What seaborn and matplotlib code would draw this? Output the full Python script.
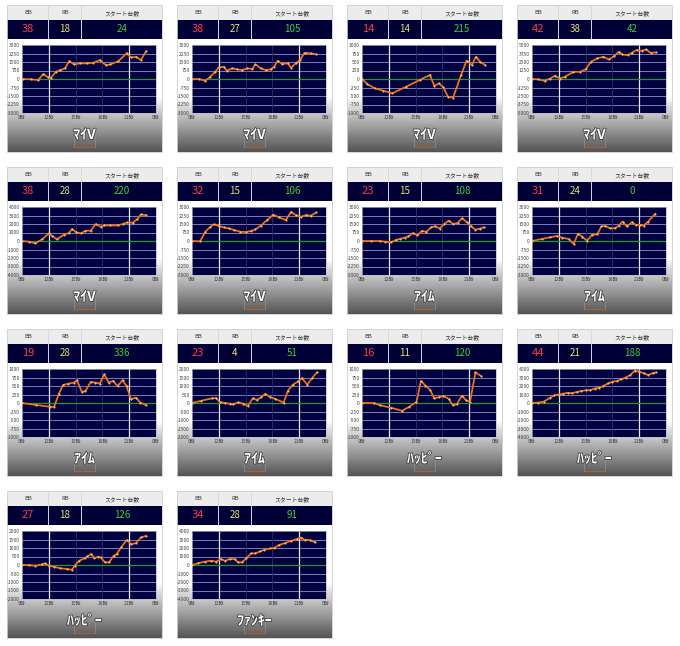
import matplotlib
matplotlib.use("Agg")
import matplotlib.pyplot as plt
import matplotlib.patheffects as pe
from matplotlib.patches import Rectangle
import numpy as np
import seaborn as sns

# card header numbers
bb = [38, 38, 14, 42, 38, 32, 23, 31, 19, 23, 16, 44, 27, 34]
rb = [18, 27, 14, 38, 28, 15, 15, 24, 28, 4, 11, 21, 18, 28]
start = [24, 105, 215, 42, 220, 106, 108, 0, 336, 51, 120, 188, 126, 91]
names = ["ﾏｲV"] * 6 + ["ｱｲﾑ"] * 4 + ["ﾊｯﾋﾟｰ"] * 3 + ["ﾌｧﾝｷｰ"]
y_max = [3000, 3000, 1000, 5000, 4000, 3000, 3000, 3000, 1000, 2000, 1000, 4000, 2000, 4000]

hour_ticks = [9, 12, 15, 18, 21, 24]
hour_labels = ["9時", "12時", "15時", "18時", "21時", "0時"]

# hour / difference series per card
h01 = [9.1, 10.0, 10.8, 11.4, 11.9, 12.2, 12.8, 13.3, 13.8, 14.3, 14.8, 15.5, 16.3, 17.0, 17.7, 18.4, 18.9, 19.8, 20.7, 21.2, 21.8, 22.3, 22.9]
v01 = [0, -30, -90, 440, 150, 60, 645, 790, 940, 1580, 1290, 1380, 1380, 1440, 1670, 1230, 1290, 1580, 2260, 1900, 1960, 1670, 2460]
h02 = [9.0, 9.75, 10.5, 11.06, 11.6, 12.0, 12.56, 12.9, 13.5, 14.06, 14.6, 15.2, 15.75, 16.1, 16.7, 17.25, 17.8, 18.2, 18.6, 19.1, 19.7, 20.1, 20.6, 21.1, 21.6, 22.3, 22.9]
v02 = [0, 0, -150, 200, 650, 1030, 1080, 730, 940, 850, 790, 940, 880, 1290, 940, 790, 850, 1080, 1610, 1320, 1380, 1000, 1380, 1670, 2320, 2260, 2170]
h03 = [9.0, 9.6, 10.4, 11.3, 12.4, 13.95, 15.45, 16.6, 17.1, 17.6, 18.1, 18.6, 19.2, 20.1, 20.7, 21.3, 21.75, 22.2, 22.8]
v03 = [0, -150, -270, -340, -420, -225, -30, 120, -205, -130, -245, -515, -545, 120, 540, 410, 655, 510, 410]
h04 = [9.0, 9.7, 10.4, 11.0, 11.6, 12.1, 12.7, 13.6, 14.4, 15.0, 15.6, 16.3, 17.0, 17.6, 18.2, 18.7, 19.1, 19.7, 20.2, 20.7, 21.3, 21.75, 22.3, 22.9]
v04 = [0, -50, -290, 50, 490, 50, 340, 1030, 1070, 1420, 2540, 3030, 3270, 2880, 3370, 4000, 3610, 3510, 3860, 4250, 4150, 4340, 3860, 3900]
h05 = [9.0, 9.75, 10.5, 11.25, 12.0, 12.4, 12.9, 13.7, 14.25, 14.6, 15.1, 15.6, 16.1, 16.7, 17.25, 17.8, 18.2, 18.9, 19.7, 20.25, 20.8, 21.4, 21.9, 22.3, 22.9]
v05 = [0, -80, -270, 200, 900, 590, 200, 740, 940, 1400, 1010, 900, 1210, 1210, 1990, 1680, 1830, 1830, 1830, 1990, 2180, 2150, 2570, 3120, 3040]
h06 = [9.0, 9.9, 10.5, 11.06, 11.5, 12.0, 12.56, 13.1, 13.7, 14.4, 15.0, 15.6, 16.1, 16.7, 17.4, 18.1, 18.75, 19.5, 20.1, 20.6, 21.2, 21.75, 22.3, 22.9]
v06 = [0, -30, 820, 1260, 1470, 1320, 1200, 1110, 970, 820, 790, 880, 1030, 1350, 1850, 2320, 2080, 1850, 2580, 2290, 2140, 2290, 2230, 2520]
h07 = [9.0, 10.0, 11.0, 11.6, 12.3, 12.8, 13.3, 13.8, 14.2, 14.7, 15.2, 15.7, 16.2, 16.7, 17.2, 17.7, 18.2, 18.7, 19.2, 19.7, 20.2, 20.7, 21.2, 21.7, 22.2, 22.7]
v07 = [0, 0, 0, -60, -100, 100, 200, 300, 400, 700, 500, 900, 800, 1200, 1300, 1100, 1500, 1800, 1500, 1600, 2000, 1700, 1300, 1000, 1100, 1200]
h08 = [9.0, 10.1, 11.05, 11.8, 12.36, 13.1, 13.66, 14.15, 14.6, 15.15, 15.7, 16.3, 16.76, 17.2, 17.7, 18.25, 18.7, 19.15, 19.6, 20.2, 20.6, 21.1, 21.5, 22.0, 22.8]
v08 = [0, 180, 330, 450, 300, 180, -270, 650, 390, 30, 540, 590, 1280, 1340, 1130, 1130, 1340, 1720, 1280, 1660, 1430, 1430, 1340, 1720, 2410]
h09 = [9.0, 10.6, 12.1, 12.6, 13.1, 13.6, 14.2, 14.8, 15.15, 15.7, 16.1, 16.7, 17.2, 17.7, 18.2, 18.7, 19.2, 19.7, 20.25, 20.7, 21.2, 21.75, 22.25, 22.9]
v09 = [0, -60, -110, -110, 255, 530, 570, 600, 670, 325, 355, 620, 600, 570, 845, 600, 650, 500, 670, 500, 110, 160, 10, -60]
h10 = [9.0, 10.05, 11.2, 11.7, 12.1, 12.7, 13.25, 13.6, 14.2, 14.75, 15.25, 15.8, 16.25, 16.75, 17.2, 17.75, 18.3, 19.25, 19.75, 20.3, 20.9, 21.3, 21.9, 22.45, 23.0]
v10 = [0, 135, 270, 290, 60, 0, -40, -80, 40, -40, -175, 270, 175, 345, 540, 345, 250, 20, 735, 1080, 1275, 1465, 1080, 1465, 1815]
h11 = [9.0, 10.3, 11.07, 12.2, 13.5, 14.26, 15.1, 15.6, 16.1, 16.6, 17.1, 17.65, 18.1, 18.7, 19.15, 19.6, 20.2, 20.65, 21.1, 21.7, 22.3]
v11 = [0, 0, -70, -135, -230, -115, 30, 655, 510, 395, 135, 175, 205, 125, -60, -40, 220, 75, 40, 900, 800]
h12 = [9.0, 9.7, 10.3, 11.0, 11.5, 12.0, 12.5, 13.0, 13.5, 14.0, 14.5, 15.0, 15.5, 16.0, 16.5, 17.0, 17.5, 18.0, 18.5, 19.0, 19.5, 20.0, 20.5, 21.0, 21.5, 22.0, 22.5, 22.9]
v12 = [0, 50, 150, 600, 900, 1000, 1100, 1200, 1150, 1300, 1400, 1500, 1500, 1700, 1800, 2000, 2300, 2500, 2600, 2800, 3000, 3300, 3800, 3700, 3500, 3300, 3500, 3600]
h13 = [9.0, 9.75, 10.5, 11.25, 11.6, 12.0, 12.56, 13.3, 14.06, 14.6, 14.9, 15.4, 16.0, 16.3, 16.75, 17.1, 17.5, 17.8, 18.3, 18.75, 19.25, 19.6, 20.1, 20.7, 21.25, 21.75, 22.3, 22.9]
v13 = [0, 0, -40, 40, 100, -40, -100, -195, -235, -275, -40, 255, 390, 505, 645, 410, 490, 450, 155, 155, 545, 645, 1035, 1465, 1230, 1285, 1620, 1715]
h14 = [9.0, 9.64, 10.4, 11.14, 11.7, 12.2, 12.7, 13.2, 13.76, 14.14, 14.6, 15.07, 15.6, 16.1, 16.6, 17.1, 17.7, 18.2, 18.7, 19.4, 20.1, 20.7, 21.2, 21.6, 22.2, 22.8]
v14 = [0, 195, 390, 505, 390, 700, 505, 700, 700, 310, 310, 780, 1365, 1365, 1600, 1795, 1950, 1990, 2340, 2575, 2845, 3040, 3235, 2965, 2925, 2650]

hours = [h01, h02, h03, h04, h05, h06, h07, h08, h09, h10, h11, h12, h13, h14]
diffs = [v01, v02, v03, v04, v05, v06, v07, v08, v09, v10, v11, v12, v13, v14]

sns.set_style("white")
plt.rcParams["font.family"] = ["Noto Sans CJK JP", "DejaVu Sans"]

W, H = 680, 646
fig = plt.figure(figsize=(W / 100, H / 100), dpi=100)
bg = fig.add_axes([0, 0, 1, 1])
bg.set_xlim(0, W)
bg.set_ylim(H, 0)
bg.axis("off")

card_x = [7, 177, 347, 517]
card_y = [5, 167, 329, 491]
cw, ch = 155, 147

# vertical gradient for the lower card body
prof = np.concatenate([np.ones(58), np.linspace(1.0, 0.84, 12), np.linspace(0.84, 0.33, 44)])
grad = np.repeat(prof[:, None, None], 3, axis=2)

for i in range(len(bb)):
    cx, cy = card_x[i % 4], card_y[i // 4]

    bg.imshow(grad, extent=(cx, cx + cw, cy + ch, cy + 34), aspect="auto",
              origin="upper", zorder=1, interpolation="bilinear")
    bg.add_patch(Rectangle((cx, cy), cw, 15, fc="#ececec", ec="none", zorder=2))
    bg.add_patch(Rectangle((cx, cy + 15), cw, 19, fc="#000036", ec="none", zorder=2))
    for dx in (41, 74):
        bg.plot([cx + dx, cx + dx], [cy, cy + 34], color="#d8d8e4", lw=0.7, zorder=3)
    bg.add_patch(Rectangle((cx, cy), cw, ch, fill=False, ec="#cfcfcf", lw=0.6, zorder=4))

    bg.text(cx + 21, cy + 8, "BB", fontsize=4.2, color="#333333", ha="center", va="center", zorder=5)
    bg.text(cx + 58, cy + 8, "RB", fontsize=4.2, color="#333333", ha="center", va="center", zorder=5)
    bg.text(cx + 115, cy + 8, "スタート台数", fontsize=4.2, color="#333333", ha="center", va="center", zorder=5)
    bg.text(cx + 21, cy + 24.5, str(bb[i]), fontsize=8, color="#ff3a4a", ha="center", va="center", zorder=5)
    bg.text(cx + 58, cy + 24.5, str(rb[i]), fontsize=7, color="#e6e070", ha="center", va="center", zorder=5)
    bg.text(cx + 115, cy + 24.5, str(start[i]), fontsize=7, color="#3ad03a", ha="center", va="center", zorder=5)

    # small button under the machine name
    bg.add_patch(Rectangle((cx + 67, cy + 121), 21, 21, fill=False, ec="#9a9a9a", lw=0.4, zorder=5))
    bg.plot([cx + 68, cx + 87], [cy + 142, cy + 142], color="#b0602a", lw=0.8, zorder=5)
    bg.text(cx + 77.5, cy + 130, names[i], fontsize=10, color="white", fontweight="bold",
            ha="center", va="center", zorder=6,
            path_effects=[pe.withStroke(linewidth=1.2, foreground="#404040")])

    # chart
    left, right, top, bottom = cx + 15, cx + 149, cy + 40, cy + 108
    ax = fig.add_axes([left / W, 1 - bottom / H, (right - left) / W, (bottom - top) / H])
    ax.set_facecolor("#000040")
    s = y_max[i]
    yt = np.linspace(-s, s, 9)
    for yv in yt[1:-1]:
        if yv != 0:
            ax.axhline(yv, color="#7c7cb4", lw=0.7, zorder=1)
    for xv in (15, 18):
        ax.axvline(xv, color="#2a2a62", lw=0.7, zorder=1)
    for xv in (12, 21):
        ax.axvline(xv, color="#e8e8ff", lw=0.9, zorder=1)
    ax.axhline(0, color="#1f9a2a", lw=0.9, zorder=2)

    sns.lineplot(x=hours[i], y=diffs[i], ax=ax, color="#f57318", lw=1.25, marker="o",
                 markersize=1.5, markeredgewidth=0, markerfacecolor="#ffb870", zorder=3)

    ax.set_xlim(9, 24)
    ax.set_ylim(-s, s)
    ax.set_yticks(yt)
    ax.set_yticklabels([str(int(v)) for v in yt])
    ax.set_xticks(hour_ticks)
    ax.set_xticklabels(hour_labels)
    ax.tick_params(labelsize=3.6, length=0, pad=1.5, colors="#444444")
    ax.set_xlabel("")
    ax.set_ylabel("")
    for sp in ax.spines.values():
        sp.set_color("#b8b8cc")
        sp.set_linewidth(0.5)

fig.savefig("out.png", dpi=100)
